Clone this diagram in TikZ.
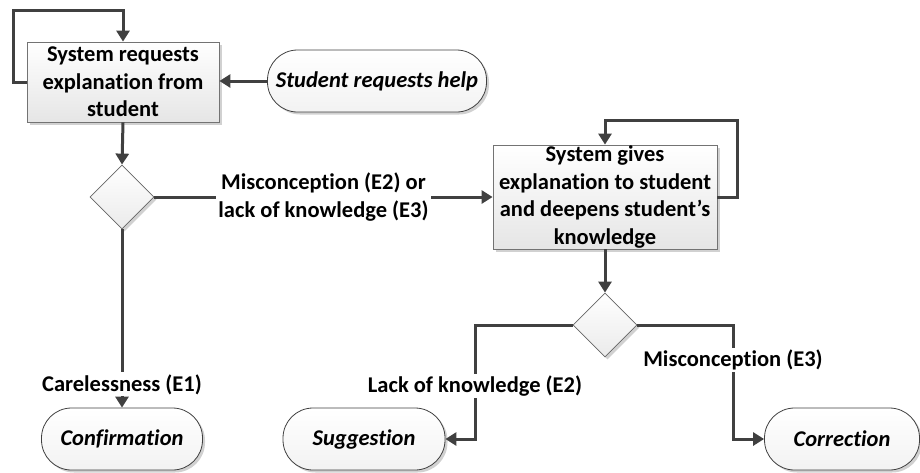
\documentclass[tikz,border=0pt]{standalone}
\usepackage{fontspec}
\setmainfont{Carlito}[Ligatures={NoCommon}]
\usetikzlibrary{arrows.meta,shapes.geometric,shadows}
\definecolor{linec}{HTML}{404040}
\begin{document}
\begin{tikzpicture}[x=1pt,y=-1pt,
  txt/.style={font=\bfseries\fontsize{22.5}{27.5}\selectfont, align=center},
  shad/.style={drop shadow={shadow xshift=2.5pt,shadow yshift=-2.5pt,fill=black,opacity=0.18}},
  proc/.style={txt, shad, draw=black!55, line width=0.8pt, top color=white, bottom color=black!10, inner sep=0pt},
  term/.style={txt, shad, draw=black!75, line width=0.8pt, rounded corners=30pt, top color=white, bottom color=black!5, font=\bfseries\itshape\fontsize{22.5}{27.5}\selectfont, inner sep=0pt, minimum height=62pt},
  dec/.style={diamond, shad, draw=black!60, line width=0.8pt, top color=white, bottom color=black!8, minimum width=64pt, minimum height=64pt, inner sep=0pt},
  conn/.style={draw=linec, line width=3pt},
  arr/.style={conn, -{Triangle[length=11pt,width=13pt]}},
  lbl/.style={txt, fill=white, inner sep=2pt}
]
\useasboundingbox (0,0) rectangle (920,472);

\node[proc, minimum width=192pt, minimum height=80pt] (b1) at (123,82) {System requests\\explanation from\\student};
\node[term, minimum width=219pt] (t1) at (377,81) {Student requests help};
\node[dec] (d1) at (122,197) {};
\node[proc, minimum width=224pt, minimum height=104pt] (b2) at (605,197) {System gives\\explanation to student\\and deepens student’s\\knowledge};
\node[dec] (d2) at (605,325) {};
\node[term, minimum width=161pt] (conf) at (122,439) {Confirmation};
\node[term, minimum width=162pt] (sugg) at (364,439) {Suggestion};
\node[term, minimum width=155pt] (corr) at (842,439) {Correction};

\coordinate (l1) at (13,10);
\coordinate (l2) at (737,120);
\coordinate (c2) at (475,439);
\coordinate (c3) at (733,439);

\draw[arr] (b1.west) -| (l1) -| (b1.north);
\draw[arr] (t1.west) -- (t1.west -| b1.east);
\draw[arr] (b1.south) -- (d1.north);
\draw[arr] (d1.east) -- node[lbl] {Misconception (E2) or\\lack of knowledge (E3)} (b2.west);
\draw[arr] (b2.east) -| (l2) -| (b2.north);
\draw[arr] (b2.south) -- (d2.north);
\draw[arr] (d1.south) -- node[lbl, pos=0.87] {Carelessness (E1)} (conf.north);
\draw[arr] (d2.west) -| (c2) -- (sugg.east);
\draw[arr] (d2.east) -| (c3) -- (corr.west);
\node[lbl] (lab2) at (475,386) {Lack of knowledge (E2)};
\node[lbl] (lab3) at (733,360) {Misconception (E3)};
\end{tikzpicture}
\end{document}
